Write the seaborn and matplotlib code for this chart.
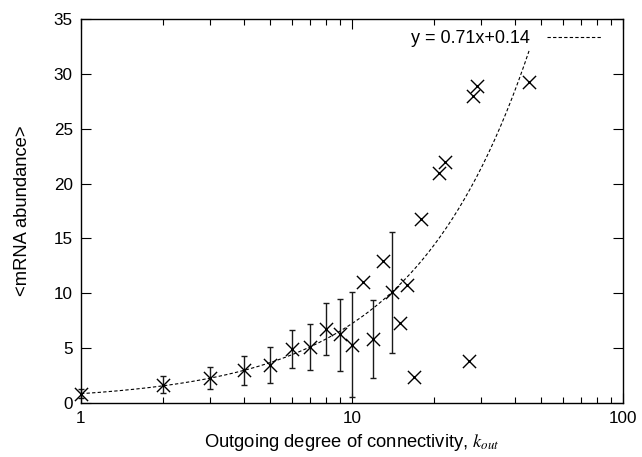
import numpy as np
import pandas as pd
import matplotlib
matplotlib.use("Agg")
import matplotlib.pyplot as plt
import seaborn as sns
from matplotlib.ticker import LogLocator, NullFormatter, FixedLocator

# ---- data ----
k_out = [1, 2, 3, 4, 5, 6, 7, 8, 9, 10, 11, 12, 13, 14, 15, 16, 17, 18, 21, 22, 27, 28, 29, 45]
mrna = [0.8, 1.63, 2.3, 3.0, 3.46, 4.9, 5.1, 6.75, 6.26, 5.29, 11.0, 5.86, 12.97, 10.09,
        7.32, 10.78, 2.37, 16.75, 21.0, 21.94, 3.83, 27.96, 28.92, 29.23]

err_k = [1, 2, 3, 4, 5, 6, 7, 8, 9, 10, 12, 14]
err_mid = [0.8, 1.63, 2.3, 3.0, 3.46, 4.9, 5.1, 6.75, 6.26, 5.29, 5.86, 10.09]
err_low = [0.43, 0.89, 1.32, 1.61, 1.80, 3.19, 3.0, 4.38, 2.92, 0.57, 2.31, 4.59]
err_high = [1.25, 2.45, 3.25, 4.31, 5.1, 6.65, 7.17, 9.12, 9.48, 10.09, 9.39, 15.6]

fit_slope = 0.71
fit_intercept = 0.14
fit_range = [1, 45]
fit_label = "y = 0.71x+0.14"

y_ticks = [0, 5, 10, 15, 20, 25, 30, 35]
x_ticks = [1, 10, 100]

# ---- style ----
sns.set_style("ticks")
plt.rcParams["font.family"] = ["Liberation Sans", "DejaVu Sans"]
plt.rcParams["mathtext.fontset"] = "stix"
plt.rcParams["text.color"] = "black"
plt.rcParams["axes.labelcolor"] = "black"

fig = plt.figure(figsize=(6.42, 4.57), dpi=100)
ax = fig.add_axes([81 / 642, 1 - 403 / 457, (623 - 81) / 642, (403 - 19) / 457])

# fit line
xf = np.logspace(np.log10(fit_range[0]), np.log10(fit_range[1]), 300)
fit_df = pd.DataFrame({"x": xf, "y": fit_slope * xf + fit_intercept})
sns.lineplot(data=fit_df, x="x", y="y", ax=ax, color="black", lw=0.8,
             linestyle=(0, (3, 2)), label=fit_label)

# error bars
em = np.array(err_mid)
eb = ax.errorbar(err_k, em, yerr=[em - np.array(err_low), np.array(err_high) - em],
                 fmt="none", ecolor="#1a1a1a", elinewidth=1.0, capsize=2.2, capthick=1.0)
for art in eb.get_children():
    art.set_clip_on(False)

# points
pts = pd.DataFrame({"k": k_out, "m": mrna})
sns.scatterplot(data=pts, x="k", y="m", ax=ax, marker="x", s=90, color="black",
                linewidth=1.0, legend=False, clip_on=False, zorder=5)
sns.scatterplot(data=pts, x="k", y="m", ax=ax, marker="s", s=3, color="black",
                linewidth=0, legend=False, clip_on=False, zorder=5)

ax.set_xscale("log")
ax.set_xlim(1, 100)
ax.set_ylim(0, 35)
ax.xaxis.set_major_locator(FixedLocator(x_ticks))
ax.set_xticklabels([str(t) for t in x_ticks])
ax.xaxis.set_minor_locator(LogLocator(base=10, subs=np.arange(2, 10)))
ax.xaxis.set_minor_formatter(NullFormatter())
ax.set_yticks(y_ticks)
ax.set_yticklabels([str(t) for t in y_ticks])

ax.tick_params(which="both", direction="in", top=True, right=True, labelsize=12.3,
               colors="black", width=0.8)
ax.tick_params(which="major", length=7, pad=6)
ax.tick_params(which="minor", length=4)
for s in ax.spines.values():
    s.set_linewidth(1.0)
    s.set_color("black")

ax.set_xlabel("Outgoing degree of connectivity, $k_{out}$", fontsize=13.2, labelpad=4)
ax.set_ylabel("<mRNA abundance>", fontsize=13.2, labelpad=16)

leg = ax.legend(loc="upper right", bbox_to_anchor=(0.981, 1.0), frameon=False,
                markerfirst=False, fontsize=13, handlelength=3.05,
                borderaxespad=0.2, handletextpad=0.95)
for t in leg.get_texts():
    t.set_color("black")

fig.savefig("out.png", dpi=100)
